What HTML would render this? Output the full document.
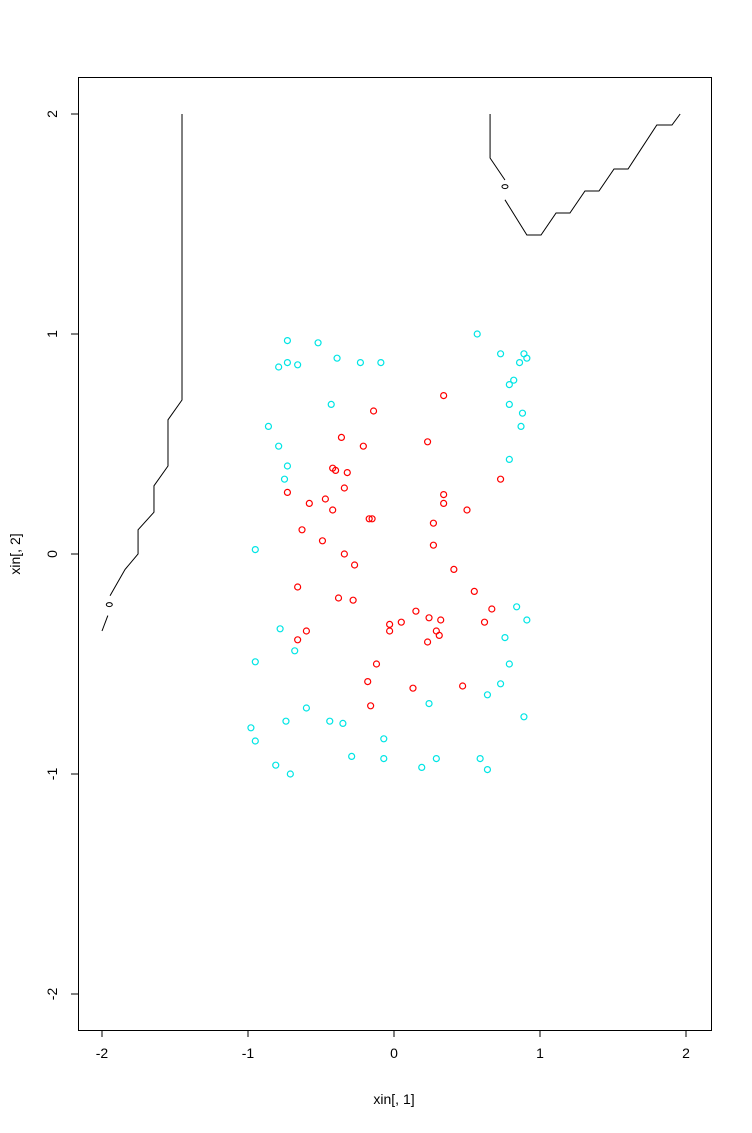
<!DOCTYPE html>
<html><head><meta charset="utf-8"><style>
body{margin:0;background:#fff}
svg text{font-family:"Liberation Sans",Arial,sans-serif;font-size:14px;fill:#000}
</style></head><body>
<svg id="chart" width="752" height="1128" xmlns="http://www.w3.org/2000/svg">
<rect x="78.5" y="77.5" width="633" height="953" fill="none" stroke="#000"/>
<g id="axes"></g><g id="lines"></g><g id="pts"></g>
<text x="394" y="1104" text-anchor="middle">xin[, 1]</text>
<text transform="translate(20,554) rotate(-90)" text-anchor="middle">xin[, 2]</text>
</svg>
<script>
const xTicks=[-2,-1,0,1,2];
const yTicks=[-2,-1,0,1,2];
const cyanX=[-0.73,-0.52,-0.73,-0.66,-0.79,-0.39,-0.23,-0.09,0.57,0.73,0.89,0.91,0.86,0.82,0.79,-0.43,0.79,0.88,0.87,-0.86,-0.79,-0.73,-0.75,0.79,-0.95,0.84,-0.78,0.91,0.76,-0.68,-0.95,0.79,0.73,0.64,0.24,-0.60,0.89,-0.44,-0.35,-0.74,-0.98,-0.95,-0.07,-0.29,-0.07,0.29,0.59,-0.81,0.19,-0.71,0.64];
const cyanY=[0.97,0.96,0.87,0.86,0.85,0.89,0.87,0.87,1.00,0.91,0.91,0.89,0.87,0.79,0.77,0.68,0.68,0.64,0.58,0.58,0.49,0.40,0.34,0.43,0.02,-0.24,-0.34,-0.30,-0.38,-0.44,-0.49,-0.50,-0.59,-0.64,-0.68,-0.70,-0.74,-0.76,-0.77,-0.76,-0.79,-0.85,-0.84,-0.92,-0.93,-0.93,-0.93,-0.96,-0.97,-1.00,-0.98];
const redX=[-0.14,0.34,-0.36,-0.21,0.23,-0.42,-0.40,-0.32,-0.34,0.34,-0.73,-0.58,0.34,-0.47,-0.42,0.50,0.73,-0.17,-0.15,0.27,-0.63,-0.49,0.27,-0.34,-0.27,0.41,-0.66,0.55,-0.38,-0.28,0.15,0.24,0.67,0.32,0.05,-0.03,-0.03,-0.60,0.29,-0.66,0.31,0.23,0.62,-0.12,-0.18,0.47,0.13,-0.16];
const redY=[0.65,0.72,0.53,0.49,0.51,0.39,0.38,0.37,0.30,0.27,0.28,0.23,0.23,0.25,0.20,0.20,0.34,0.16,0.16,0.14,0.11,0.06,0.04,0.00,-0.05,-0.07,-0.15,-0.17,-0.20,-0.21,-0.26,-0.29,-0.25,-0.30,-0.31,-0.32,-0.35,-0.35,-0.35,-0.39,-0.37,-0.40,-0.31,-0.50,-0.58,-0.60,-0.61,-0.69];
const leftLineX=[-1.452,-1.452,-1.548,-1.548,-1.644,-1.644,-1.753,-1.753,-1.842,-1.945];
const leftLineY=[2.0,0.70,0.61,0.40,0.31,0.19,0.11,0.0,-0.07,-0.19];
const leftTailX=[-1.96,-2.0];
const leftTailY=[-0.28,-0.35];
const rightLineX=[0.658,0.658,0.76];
const rightLineY=[2.0,1.80,1.70];
const rightTailX=[0.76,0.91,1.007,1.11,1.205,1.308,1.404,1.507,1.603,1.80,1.904,1.96];
const rightTailY=[1.61,1.45,1.45,1.55,1.55,1.65,1.65,1.75,1.75,1.95,1.95,2.0];
const sx=v=>394+146*v, sy=v=>554-220*v;
const NS="http://www.w3.org/2000/svg";
function mk(t,a,p){const e=document.createElementNS(NS,t);for(const k in a)e.setAttribute(k,a[k]);p.appendChild(e);return e;}
const ax=document.getElementById('axes');
xTicks.forEach(t=>{
 const l=mk('line',{x1:sx(t),x2:sx(t),y1:1030,y2:1037,stroke:'#000'},ax);
 
 
 const tx=mk('text',{x:sx(t),y:1058,'text-anchor':'middle'},ax);tx.textContent=t;
 
 
});
mk('line',{x1:sx(-2),x2:sx(2),y1:1030.5,y2:1030.5,stroke:'#000'},ax);
yTicks.forEach(t=>{
 const l=mk('line',{x1:71,x2:78,y1:sy(t),y2:sy(t),stroke:'#000'},ax);
 
 
 const tx=mk('text',{transform:`translate(57,${sy(t)}) rotate(-90)`,'text-anchor':'middle'},ax);tx.textContent=t;
 
 
});
const lg=document.getElementById('lines');
function line(xs,ys,name){
 const p=mk('polyline',{points:xs.map((x,i)=>sx(x)+','+sy(ys[i])).join(' '),fill:'none',stroke:'#000','stroke-width':1},lg);
 
 
}
line(leftLineX,leftLineY,'contour-left');
line(leftTailX,leftTailY,'contour-left-tail');
line(rightLineX,rightLineY,'contour-right');
line(rightTailX,rightTailY,'contour-right-tail');
[[-1.95,-0.23],[0.76,1.67]].forEach(c=>{
 const e=mk('ellipse',{cx:sx(c[0]),cy:sy(c[1]),rx:3,ry:2,fill:'none',stroke:'#000'},lg);
 
 
});
const pg=document.getElementById('pts');
cyanX.forEach((x,i)=>{
 const c=mk('circle',{cx:sx(x),cy:sy(cyanY[i]),r:3,fill:'none',stroke:'#00e5e5','stroke-width':1.2},pg);
 
 
});
redX.forEach((x,i)=>{
 const c=mk('circle',{cx:sx(x),cy:sy(redY[i]),r:3,fill:'none',stroke:'#f00','stroke-width':1.2},pg);
 
 
});
</script>
</body></html>
